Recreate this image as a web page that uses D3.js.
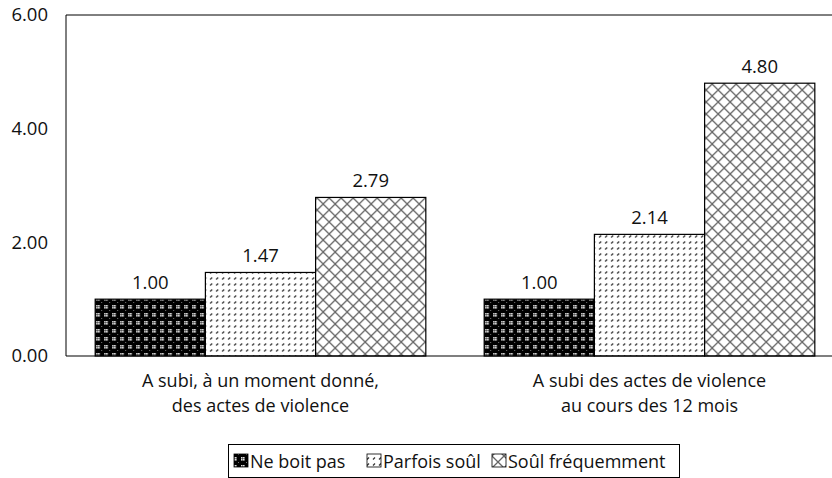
<!DOCTYPE html>
<html>
<head>
<meta charset="utf-8">
<script src="https://cdn.jsdelivr.net/npm/d3@7"></script>
<style>
  body { margin: 0; background: #fff; }
  text { font-family: "Open Sans", "Noto Sans", sans-serif; fill: #111; }
</style>
</head>
<body>
<div id="chart"></div>
<script>
var categories = [
  ["A subi, à un moment donné,", "des actes de violence"],
  ["A subi des actes de violence", "au cours des 12 mois"]
];
var seriesNames = ["Ne boit pas", "Parfois soûl", "Soûl fréquemment"];
var neBoitPas = [1.00, 1.00];
var parfoisSoul = [1.47, 2.14];
var soulFrequemment = [2.79, 4.80];
var yTicks = [0, 2, 4, 6];

var width = 832, height = 478;
var margin = {top: 15, left: 66, bottom: 122, right: -12};

var svg = d3.select("#chart").append("svg")
  .attr("width", width)
  .attr("height", height);

var defs = svg.append("defs");

// pattern 1 : black with white dot clusters
var p1 = defs.append("pattern").attr("id", "pat0")
  .attr("patternUnits", "userSpaceOnUse").attr("width", 8).attr("height", 8);
p1.append("rect").attr("width", 8).attr("height", 8).attr("fill", "#000");
[[1,1],[3,1],[1,3],[3,3]].forEach(function (p) {
  p1.append("rect").attr("x", p[0]).attr("y", p[1]).attr("width", 1.6).attr("height", 1.6).attr("fill", "#e0e0e0");
});
p1.append("rect").attr("x", 6).attr("y", 6).attr("width", 1).attr("height", 1).attr("fill", "#777");

// pattern 2 : white with small dark dashes
var p2 = defs.append("pattern").attr("id", "pat1")
  .attr("patternUnits", "userSpaceOnUse").attr("width", 6).attr("height", 6);
p2.append("rect").attr("width", 6).attr("height", 6).attr("fill", "#fff");
p2.append("path").attr("d", "M1,3.5 L3,1.5").attr("stroke", "#333").attr("stroke-width", 1.2);

// pattern 3 : diamond lattice
var p3 = defs.append("pattern").attr("id", "pat2")
  .attr("patternUnits", "userSpaceOnUse").attr("width", 12).attr("height", 12);
p3.append("rect").attr("width", 12).attr("height", 12).attr("fill", "#fff");
p3.append("path").attr("d", "M0,0 L12,12 M12,0 L0,12")
  .attr("stroke", "#666").attr("stroke-width", 1.3);

var x0 = d3.scaleBand()
  .domain(d3.range(categories.length))
  .range([margin.left, width - margin.right])
  .paddingInner(0.15).paddingOuter(0.075);

var x1 = d3.scaleBand()
  .domain(d3.range(seriesNames.length))
  .range([0, x0.bandwidth()]);

var y = d3.scaleLinear()
  .domain([0, 6])
  .range([height - margin.bottom, margin.top]);

// frame
svg.append("line")
  .attr("x1", margin.left).attr("x2", margin.left)
  .attr("y1", y(6)).attr("y2", y(0))
  .attr("stroke", "#000");
svg.append("line")
  .attr("x1", margin.left).attr("x2", width)
  .attr("y1", y(6)).attr("y2", y(6))
  .attr("stroke", "#000");

var yAxis = svg.append("g")
  .attr("transform", "translate(" + margin.left + ",0)")
  .call(d3.axisLeft(y).tickValues(yTicks).tickFormat(d3.format(".2f")).tickSize(0).tickPadding(18));
yAxis.select(".domain").remove();
yAxis.selectAll("text")
  .style("font-family", "'Open Sans', sans-serif")
  .style("font-size", "18.5px").attr("fill", "#111");

var allSeries = [neBoitPas, parfoisSoul, soulFrequemment];

var groups = svg.selectAll(".grp")
  .data(categories)
  .enter().append("g")
  .attr("class", "grp")
  .attr("transform", function (d, i) { return "translate(" + x0(i) + ",0)"; });

groups.each(function (cat, ci) {
  var g = d3.select(this);
  allSeries.forEach(function (s, si) {
    g.append("rect")
      .attr("x", x1(si))
      .attr("y", y(s[ci]))
      .attr("width", x1.bandwidth())
      .attr("height", y(0) - y(s[ci]))
      .attr("fill", "url(#pat" + si + ")")
      .attr("stroke", "#000")
      .attr("stroke-width", 1.2);
    g.append("text")
      .attr("x", x1(si) + x1.bandwidth() / 2)
      .attr("y", y(s[ci]) - 10)
      .attr("text-anchor", "middle")
      .style("font-size", "18.5px")
      .text(d3.format(".2f")(s[ci]));
  });
  cat.forEach(function (line, li) {
    g.append("text")
      .attr("x", x0.bandwidth() / 2)
      .attr("y", y(0) + 31 + li * 24.5)
      .attr("text-anchor", "middle")
      .style("font-size", "18px")
      .text(line);
  });
});

// x axis line
svg.append("line")
  .attr("x1", margin.left).attr("x2", width)
  .attr("y1", y(0)).attr("y2", y(0))
  .attr("stroke", "#000").attr("stroke-width", 1.2);

// legend
var legend = svg.append("g");
legend.append("rect")
  .attr("x", 228.5).attr("y", 444.5)
  .attr("width", 451).attr("height", 33)
  .attr("fill", "#fff").attr("stroke", "#000");
var lx = [234, 367, 492];
seriesNames.forEach(function (name, i) {
  legend.append("rect")
    .attr("x", lx[i]).attr("y", 454)
    .attr("width", 14).attr("height", 13)
    .attr("fill", "url(#pat" + i + ")")
    .attr("stroke", "#000").attr("stroke-width", 0.8);
  legend.append("text")
    .attr("x", lx[i] + 16).attr("y", 468)
    .style("font-size", "18px")
    .text(name);
});
</script>
</body>
</html>
